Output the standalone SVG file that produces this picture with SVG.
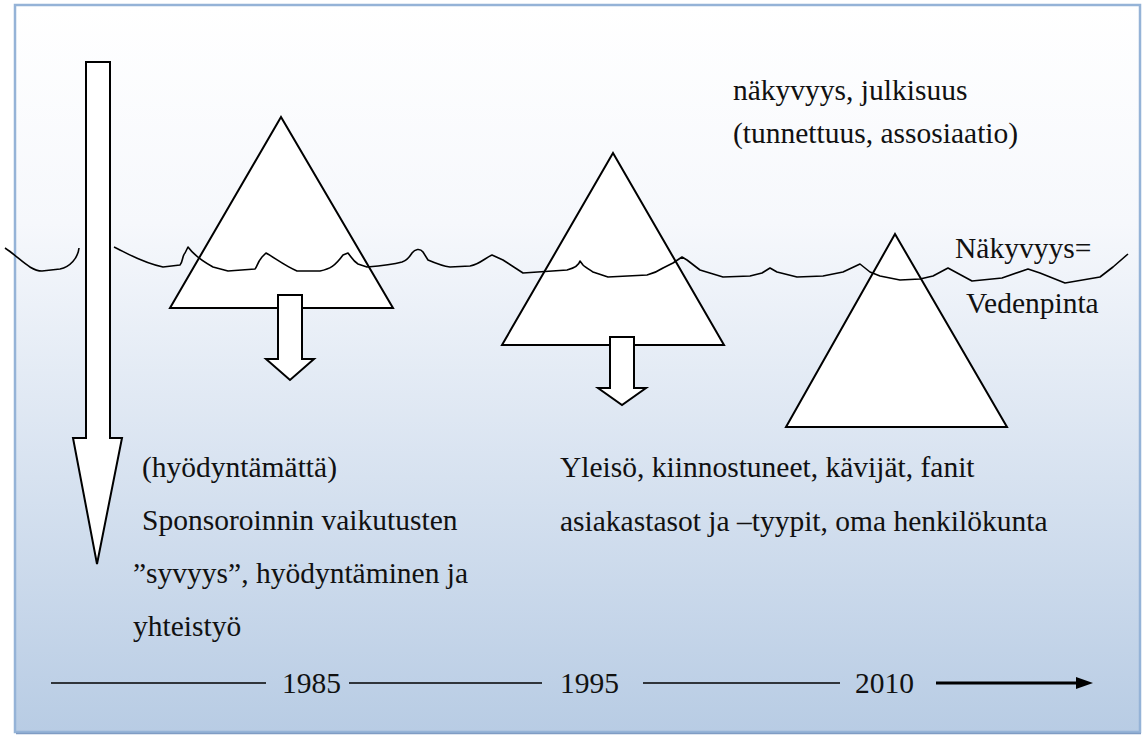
<svg xmlns="http://www.w3.org/2000/svg" width="1146" height="736" viewBox="0 0 1146 736">
<defs>
<linearGradient id="bg" x1="0" y1="0" x2="0" y2="1">
<stop offset="0" stop-color="#ffffff"/>
<stop offset="0.3" stop-color="#f6f8fc"/>
<stop offset="1" stop-color="#b8cce4"/>
</linearGradient>
<style>
.shape{fill:#ffffff;stroke:#000;stroke-width:2;stroke-linejoin:miter}
.wave{fill:none;stroke:#000;stroke-width:1.6;stroke-linejoin:round}
.t{font-family:"Liberation Serif","DejaVu Serif",serif;font-size:29.5px;fill:#111}
.tl{stroke:#000;stroke-width:1.6}
</style>
</defs>
<rect x="15" y="5" width="1125" height="727" fill="url(#bg)" stroke="#95b3d7" stroke-width="2.5"/>
<line x1="16" y1="733.5" x2="1141" y2="733.5" stroke="#7f9cc4" stroke-width="1.5"/>

<g id="triangle1"><polygon class="shape" points="281,117 170,308 393,308"/></g>
<g id="triangle2"><polygon class="shape" points="613,153 502,345 724,345"/></g>
<g id="triangle3"><polygon class="shape" points="895,234 786,427 1007,427"/></g>

<g id="connectors">
<path class="wave" d="M5,248 C20,258 30,271 42,271 L60,269 C70,267 78,258 79,248"/>
<path class="wave" d="M114,247 C125,252 140,262 163,267 L180,265 C183,262 182,256 185,253 L188,247 C191,251 195,257 213,267 L228,271 L255,269 C257,267 257,263 262,257 L266,253 C275,258 285,266 297,271 L320,271 C330,269 335,266 343,255 L348,253 C352,258 353,261 358,264 L367,267 C380,266 395,264 402,262 C408,260 410,256 412,253 C415,249 420,248 423,252 L428,260 C435,263 442,266 450,267 L470,266 C480,264 485,258 492,255 L503,260 L523,273 L567,270 C575,268 579,265 580,261 L583,265 C585,267 590,270 593,272 L608,277 L647,275 C655,273 660,270 663,268 L673,263 L682,257 L687,260 L700,270 L723,277 L750,276 L762,273 L770,268 L777,272 L797,277 L823,276 L843,272 L860,264 L870,272 L880,276 L900,280 L920,279 L933,276 L948,268 L972,281 L1002,278 L1028,269 L1040,273 L1065,283 L1100,277 L1113,267 L1128,254"/>
<line class="tl" x1="51" y1="683" x2="266" y2="683"/>
<line class="tl" x1="349" y1="683" x2="542" y2="683"/>
<line class="tl" x1="643" y1="683" x2="840" y2="683"/>
<line x1="936" y1="683" x2="1080" y2="683" stroke="#000" stroke-width="2.8"/>
<polygon points="1076,677 1093,683 1076,689" fill="#000"/>
</g>

<g id="depth-arrow"><polygon class="shape" points="86,62 110,62 110,438 122,438 97,564 73,438 86,438"/></g>
<g id="arrow1"><polygon class="shape" points="278,295 302,295 302,359 314,359 290,380 266,359 278,359"/></g>
<g id="arrow2"><polygon class="shape" points="610,337 634,337 634,388 646,388 622,405 598,388 610,388"/></g>

<g id="labels" font-family="'Liberation Serif', serif">
<text class="t" x="733" y="100">näkyvyys, julkisuus</text>
<text class="t" x="733" y="143">(tunnettuus, assosiaatio)</text>
<text class="t" x="955" y="258">Näkyvyys=</text>
<text class="t" x="966" y="313">Vedenpinta</text>
<text class="t" x="142" y="477">(hyödyntämättä)</text>
<text class="t" x="142" y="530">Sponsoroinnin vaikutusten</text>
<text class="t" x="133" y="583">”syvyys”, hyödyntäminen ja</text>
<text class="t" x="133" y="636">yhteistyö</text>
<text class="t" x="560" y="477">Yleisö, kiinnostuneet, kävijät, fanit</text>
<text class="t" x="560" y="531">asiakastasot ja –tyypit, oma henkilökunta</text>
<text class="t" x="282" y="693">1985</text>
<text class="t" x="560" y="693">1995</text>
<text class="t" x="855" y="693">2010</text>
</g>
</svg>
